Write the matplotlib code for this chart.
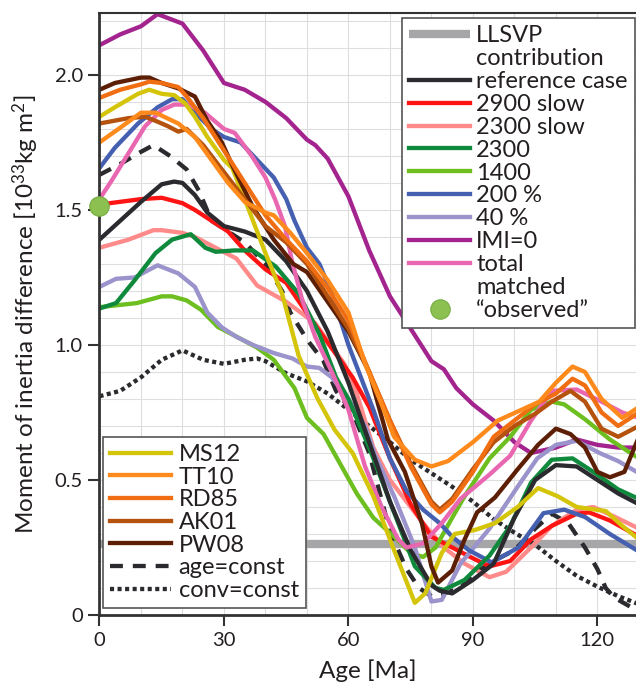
import matplotlib
matplotlib.use('Agg')
import matplotlib.pyplot as plt
from matplotlib.lines import Line2D
from matplotlib.ticker import MultipleLocator

plt.rcParams['font.family'] = ['Lato', 'DejaVu Sans']
plt.rcParams['mathtext.fontset'] = 'custom'
plt.rcParams['mathtext.rm'] = 'Lato'
plt.rcParams['mathtext.it'] = 'Lato:italic'

TXT = '#231f20'

# ---- data (age in Ma, moment of inertia difference in 1e33 kg m^2) ----
imi_age = [0, 5, 10, 14, 20, 25, 30, 35, 40, 45, 50, 52, 55, 60, 65, 70, 75, 80, 83, 86, 90, 95, 100, 104, 110, 115, 120, 125, 130]
imi_val = [2.11, 2.15, 2.18, 2.225, 2.19, 2.09, 1.97, 1.945, 1.90, 1.84, 1.76, 1.74, 1.69, 1.55, 1.35, 1.18, 1.06, 0.94, 0.91, 0.84, 0.78, 0.72, 0.64, 0.60, 0.62, 0.65, 0.63, 0.62, 0.62]

ref_age = [0, 5, 10, 15, 18, 20, 23, 26, 30, 35, 40, 45, 50, 55, 60, 65, 70, 75, 80, 82, 85, 90, 95, 100, 105, 110, 115, 120, 125, 130]
ref_val = [1.39, 1.46, 1.53, 1.595, 1.605, 1.60, 1.555, 1.49, 1.44, 1.42, 1.39, 1.31, 1.20, 1.05, 0.86, 0.64, 0.42, 0.24, 0.11, 0.09, 0.08, 0.13, 0.19, 0.36, 0.50, 0.555, 0.55, 0.50, 0.45, 0.41]

agec_age = [0, 5, 10, 13, 17, 21, 24, 27, 31, 35, 40, 44, 46, 50, 54, 57, 61, 65, 70, 74, 77, 80, 83, 87, 90, 95, 100, 105, 109, 113, 117, 120, 122, 124, 128, 130]
agec_val = [1.63, 1.67, 1.715, 1.74, 1.70, 1.65, 1.57, 1.46, 1.42, 1.38, 1.30, 1.20, 1.12, 1.02, 0.94, 0.83, 0.75, 0.60, 0.31, 0.17, 0.10, 0.07, 0.08, 0.10, 0.15, 0.20, 0.24, 0.32, 0.375, 0.34, 0.25, 0.17, 0.10, 0.065, 0.03, 0.02]

convc_age = [0, 5, 10, 15, 20, 25, 30, 35, 38, 40, 45, 50, 55, 60, 65, 70, 75, 80, 85, 90, 95, 100, 105, 110, 115, 120, 125, 130]
convc_val = [0.81, 0.83, 0.88, 0.945, 0.98, 0.945, 0.93, 0.945, 0.95, 0.94, 0.895, 0.865, 0.82, 0.76, 0.70, 0.64, 0.575, 0.525, 0.475, 0.42, 0.355, 0.305, 0.26, 0.20, 0.145, 0.105, 0.07, 0.04]

s2900_age = [0, 5, 10, 15, 20, 23, 27, 31, 35, 40, 45, 49, 54, 61, 65, 70, 75, 80, 85, 90, 94, 99, 104, 109, 115, 118, 123, 130]
s2900_val = [1.52, 1.53, 1.54, 1.545, 1.525, 1.50, 1.46, 1.42, 1.35, 1.28, 1.23, 1.14, 1.03, 0.88, 0.77, 0.58, 0.41, 0.29, 0.25, 0.21, 0.18, 0.20, 0.28, 0.33, 0.375, 0.38, 0.35, 0.29]

s2300_age = [0, 7, 13, 15, 20, 23, 28, 33, 38, 45, 52, 59, 62, 66, 70, 74, 78, 83, 88, 94, 98, 104, 109, 115, 119, 124, 130]
s2300_val = [1.36, 1.39, 1.425, 1.425, 1.415, 1.40, 1.36, 1.32, 1.22, 1.16, 1.08, 0.93, 0.82, 0.62, 0.50, 0.42, 0.34, 0.25, 0.19, 0.14, 0.16, 0.25, 0.33, 0.39, 0.40, 0.365, 0.32]

g2300_age = [0, 4, 8.5, 13.5, 17.5, 22, 25.5, 28, 32.5, 37, 42.5, 48, 53, 57, 60, 65, 70, 76, 81, 83, 88, 94, 99, 104, 109, 114, 119, 125, 130]
g2300_val = [1.135, 1.155, 1.24, 1.34, 1.39, 1.41, 1.36, 1.345, 1.35, 1.35, 1.29, 1.19, 1.04, 0.88, 0.80, 0.62, 0.42, 0.18, 0.10, 0.093, 0.13, 0.22, 0.33, 0.49, 0.575, 0.58, 0.53, 0.465, 0.43]

g1400_age = [0, 9, 15, 17.5, 21, 24.5, 28.5, 32.5, 38, 42, 47, 50, 54, 58, 62, 66, 71, 75, 78, 81, 85, 88, 94, 99, 104, 109, 112, 117, 123, 130]
g1400_val = [1.14, 1.155, 1.18, 1.18, 1.165, 1.13, 1.067, 1.035, 0.99, 0.945, 0.84, 0.73, 0.67, 0.56, 0.45, 0.36, 0.29, 0.23, 0.215, 0.25, 0.36, 0.44, 0.58, 0.66, 0.76, 0.79, 0.78, 0.725, 0.65, 0.58]

p200_age = [0, 3.7, 9.3, 14, 17.5, 20, 23, 27, 30, 34, 38, 42, 45, 47, 50, 53, 56, 60, 66, 70, 74, 78, 82, 85, 89, 94.5, 101, 107, 112, 117, 123, 130]
p200_val = [1.655, 1.73, 1.82, 1.88, 1.91, 1.91, 1.86, 1.80, 1.77, 1.75, 1.685, 1.62, 1.54, 1.46, 1.36, 1.30, 1.19, 1.00, 0.76, 0.58, 0.46, 0.39, 0.34, 0.29, 0.24, 0.195, 0.25, 0.377, 0.39, 0.363, 0.30, 0.235]

p40_age = [0, 4, 8.5, 14, 19, 23, 26, 29.5, 33, 37, 42, 46.5, 50, 53, 56, 60, 64, 66.5, 71, 76, 80, 82.5, 87, 94, 101, 105.5, 110, 115, 120.5, 125, 130]
p40_val = [1.215, 1.245, 1.25, 1.295, 1.265, 1.215, 1.12, 1.065, 1.03, 1.00, 0.97, 0.95, 0.92, 0.915, 0.88, 0.80, 0.70, 0.59, 0.44, 0.25, 0.05, 0.056, 0.19, 0.32, 0.48, 0.58, 0.63, 0.645, 0.60, 0.57, 0.525]

tot_age = [0, 3, 7, 11, 15, 18, 21.3, 25.4, 30, 32.6, 36.7, 40, 42.3, 44.7, 46.4, 48.8, 52, 56, 60, 64, 68, 72, 74, 78, 82.5, 87, 94, 99, 104, 109, 115, 121, 126, 130]
tot_val = [1.54, 1.61, 1.71, 1.81, 1.87, 1.89, 1.89, 1.86, 1.80, 1.785, 1.70, 1.62, 1.54, 1.44, 1.31, 1.17, 1.03, 0.90, 0.76, 0.55, 0.40, 0.28, 0.25, 0.265, 0.34, 0.43, 0.52, 0.59, 0.72, 0.83, 0.835, 0.79, 0.75, 0.73]

ms12_age = [0, 3.7, 9.3, 12, 15, 18, 20.6, 23, 26, 30, 32, 35, 37, 40, 44, 48, 52.6, 56.7, 61, 66, 71, 76, 78.5, 82.5, 85.6, 90.5, 95.3, 100.8, 105.7, 110.4, 115, 122, 126, 130]
ms12_val = [1.845, 1.88, 1.93, 1.945, 1.93, 1.925, 1.895, 1.845, 1.77, 1.685, 1.655, 1.54, 1.46, 1.34, 1.19, 0.96, 0.80, 0.685, 0.60, 0.44, 0.24, 0.045, 0.08, 0.23, 0.30, 0.315, 0.34, 0.40, 0.47, 0.44, 0.40, 0.385, 0.33, 0.28]

tt10_age = [0, 5.5, 10, 13.5, 19, 23, 27, 31, 35, 40, 42, 46, 50, 55, 60, 64, 68, 71, 76, 80, 84, 90, 96, 101, 106, 110, 114, 117, 121, 126, 130]
tt10_val = [1.75, 1.81, 1.86, 1.86, 1.82, 1.77, 1.685, 1.60, 1.53, 1.49, 1.48, 1.415, 1.34, 1.24, 1.12, 0.93, 0.78, 0.66, 0.575, 0.55, 0.57, 0.64, 0.72, 0.755, 0.79, 0.86, 0.92, 0.90, 0.80, 0.73, 0.77]

rd85_age = [0, 5, 10, 12, 15, 19, 21, 25, 30, 35, 40, 45, 50, 55, 60, 65, 70, 75, 80, 82, 85, 90, 95, 100, 105, 110, 114, 117, 121, 125, 130]
rd85_val = [1.915, 1.945, 1.965, 1.975, 1.97, 1.955, 1.92, 1.84, 1.72, 1.60, 1.48, 1.39, 1.31, 1.21, 1.09, 0.90, 0.72, 0.55, 0.41, 0.38, 0.42, 0.53, 0.66, 0.72, 0.78, 0.82, 0.875, 0.85, 0.75, 0.70, 0.75]

ak01_age = [0, 7, 11, 13.5, 16.5, 19, 21, 25, 30, 35, 40, 45, 50, 55, 60, 65, 70, 75, 80, 82, 85, 90, 95, 100, 105, 109, 113.5, 117, 121, 125, 130]
ak01_val = [1.82, 1.84, 1.845, 1.83, 1.81, 1.79, 1.80, 1.74, 1.64, 1.54, 1.44, 1.38, 1.30, 1.18, 1.06, 0.90, 0.72, 0.56, 0.42, 0.39, 0.43, 0.54, 0.64, 0.70, 0.745, 0.79, 0.83, 0.79, 0.69, 0.66, 0.70]

pw08_age = [0, 3.7, 10, 12, 15, 19, 23, 26, 29.5, 32, 37, 42, 46.7, 50, 55, 60, 65, 69.5, 73.6, 77.7, 80, 81.6, 85, 88, 91, 95.3, 100.8, 105.7, 110, 113.5, 117, 120, 123, 126.5, 130]
pw08_val = [1.945, 1.97, 1.99, 1.99, 1.97, 1.95, 1.92, 1.83, 1.75, 1.665, 1.51, 1.39, 1.30, 1.27, 1.16, 1.05, 0.90, 0.65, 0.53, 0.34, 0.18, 0.12, 0.165, 0.28, 0.38, 0.435, 0.54, 0.63, 0.69, 0.67, 0.62, 0.53, 0.51, 0.53, 0.66]

llsvp_val = 0.263
obs_age = [0]
obs_val = [1.515]

# ---- figure ----
fig = plt.figure(figsize=(6.36, 6.87), dpi=100)
ax = fig.add_axes([0.1564, 0.1048, 0.8436, 0.8758])
ax.set_xlim(0, 129.3)
ax.set_ylim(0, 2.228)

LW = 3.1
h_llsvp = ax.axhline(llsvp_val, color='#a6a6a8', lw=6, zorder=1.5, solid_capstyle='butt')

h_conv, = ax.plot(convc_age, convc_val, color='#2b2b2f', lw=LW, ls=(0, (0.95, 0.8)), zorder=2)
h_agec, = ax.plot(agec_age, agec_val, color='#2b2b2f', lw=LW, ls=(0, (3.0, 2.3)), zorder=2)
h_imi, = ax.plot(imi_age, imi_val, color='#a4248f', lw=LW, zorder=2)
h_s2300, = ax.plot(s2300_age, s2300_val, color='#ff8a8a', lw=LW, zorder=2)
h_s2900, = ax.plot(s2900_age, s2900_val, color='#ff1414', lw=LW, zorder=2)
h_g1400, = ax.plot(g1400_age, g1400_val, color='#6cbf1f', lw=LW, zorder=2)
h_p40, = ax.plot(p40_age, p40_val, color='#9b93cc', lw=LW, zorder=2)
h_p200, = ax.plot(p200_age, p200_val, color='#4560b0', lw=LW, zorder=2)
h_g2300, = ax.plot(g2300_age, g2300_val, color='#0f8a3c', lw=LW, zorder=2)
h_ref, = ax.plot(ref_age, ref_val, color='#2b2b2f', lw=LW, zorder=2)
h_tot, = ax.plot(tot_age, tot_val, color='#e867b0', lw=LW, zorder=2)
h_ms12, = ax.plot(ms12_age, ms12_val, color='#d4c40a', lw=LW, zorder=2)
h_pw08, = ax.plot(pw08_age, pw08_val, color='#5c1f05', lw=LW, zorder=2)
h_ak01, = ax.plot(ak01_age, ak01_val, color='#b5520d', lw=LW, zorder=2)
h_rd85, = ax.plot(rd85_age, rd85_val, color='#f06d12', lw=LW, zorder=2)
h_tt10, = ax.plot(tt10_age, tt10_val, color='#ff8a1c', lw=LW, zorder=2)

h_obs, = ax.plot(obs_age, obs_val, 'o', ms=14, color='#8cc152', mec='#74ad42', mew=0.8,
                 clip_on=False, zorder=6)

# ---- axes styling ----
ax.set_xticks([0, 30, 60, 90, 120])
ax.set_yticks([0, 0.5, 1.0, 1.5, 2.0])
ax.set_yticklabels(['0', '0.5', '1.0', '1.5', '2.0'])
ax.xaxis.set_minor_locator(MultipleLocator(10))
ax.yaxis.set_minor_locator(MultipleLocator(0.1))
ax.grid(which='both', color='#dedede', lw=0.8, zorder=0)
ax.set_axisbelow(True)
ax.tick_params(which='major', direction='out', length=8, width=1.5, color='#333333',
               labelsize=14.5, labelcolor=TXT, pad=4)
ax.tick_params(which='minor', length=0)
ax.spines['right'].set_visible(False)
for s in ['left', 'bottom']:
    ax.spines[s].set_linewidth(2)
    ax.spines[s].set_color('#333333')
ax.spines['top'].set_linewidth(1.5)
ax.spines['top'].set_color('#333333')

ax.set_xlabel('Age [Ma]', fontsize=17.5, color=TXT, labelpad=8)
ax.set_ylabel(r'Moment of inertia difference [10$^{\mathregular{33}}$kg m$^{\mathregular{2}}$]',
              fontsize=17.5, color=TXT, labelpad=10)

# ---- legends ----
blank = Line2D([], [], color='none')
leg1 = ax.legend([h_llsvp, blank, h_ref, h_s2900, h_s2300, h_g2300, h_g1400, h_p200, h_p40,
                  h_imi, h_tot, blank, h_obs],
                 ['LLSVP', 'contribution', 'reference case', '2900 slow', '2300 slow', '2300',
                  '1400', '200 %', '40 %', 'IMI=0', 'total', 'matched', '\u201cobserved\u201d'],
                 loc='upper right', bbox_to_anchor=(0.998, 0.992), borderaxespad=0,
                 fontsize=17, labelspacing=0.08, handlelength=2.6, handletextpad=0.25,
                 borderpad=0.3, fancybox=False, framealpha=1, edgecolor='#555555',
                 numpoints=1, labelcolor=TXT)
leg1.get_frame().set_linewidth(1.2)
leg1.set_zorder(20)
ax.add_artist(leg1)

leg2 = ax.legend([h_ms12, h_tt10, h_rd85, h_ak01, h_pw08, h_agec, h_conv],
                 ['MS12', 'TT10', 'RD85', 'AK01', 'PW08', 'age=const', 'conv=const'],
                 loc='lower left', bbox_to_anchor=(0.0065, 0.0116), borderaxespad=0,
                 fontsize=17, labelspacing=0.07, handlelength=2.6, handletextpad=0.3,
                 borderpad=0.3, fancybox=False, framealpha=1, edgecolor='#555555',
                 labelcolor=TXT)
leg2.get_frame().set_linewidth(1.2)
leg2.set_zorder(20)

fig.savefig('out.png', dpi=100)
